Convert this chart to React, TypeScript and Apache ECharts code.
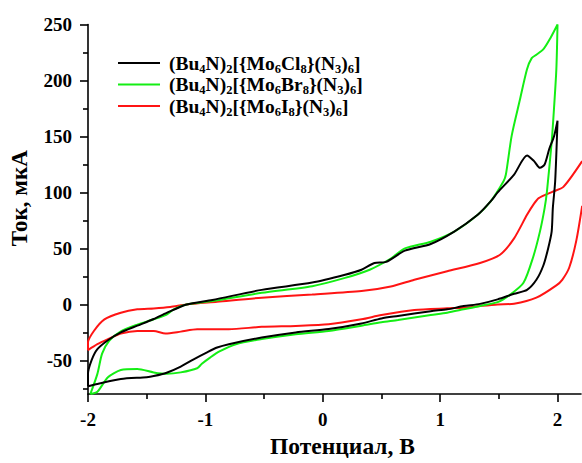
import React, { useEffect, useRef } from "react";
import * as echarts from "echarts";

const seriesNames = [
  "(Bu{s|4}N){s|2}[{Mo{s|6}Cl{s|8}}(N{s|3}){s|6}]",
  "(Bu{s|4}N){s|2}[{Mo{s|6}Br{s|8}}(N{s|3}){s|6}]",
  "(Bu{s|4}N){s|2}[{Mo{s|6}I{s|8}}(N{s|3}){s|6}]",
];
const seriesColors = ["#000000", "#14ee14", "#ff1414"];

const xMajorTicks = [-2, -1, 0, 1, 2];
const xMinorTicks = [-1.5, -0.5, 0.5, 1.5];
const yMajorTicks = [-50, 0, 50, 100, 150, 200, 250];
const yMinorTicks = [-75, -25, 25, 75, 125, 175, 225];

const clData: number[][] = [
  [-2.0, -73], [-2.0, -62], [-1.97, -50], [-1.92, -40], [-1.83, -32], [-1.72, -25], [-1.58, -19],
  [-1.44, -13], [-1.33, -7.5], [-1.16, 0], [-0.94, 4], [-0.52, 13], [-0.09, 19.5], [0.19, 26.5],
  [0.33, 31], [0.44, 37], [0.54, 38], [0.7, 48], [0.92, 54], [1.12, 65], [1.32, 80], [1.43, 92],
  [1.49, 100], [1.63, 116], [1.74, 133], [1.8, 128], [1.85, 122], [1.89, 125], [1.93, 139],
  [1.97, 150], [2.0, 164],
  [1.98, 110], [1.96, 86], [1.95, 65], [1.92, 50], [1.88, 35], [1.82, 22], [1.74, 13], [1.63, 9.5],
  [1.49, 4.5], [1.34, 0.5], [1.2, -1.5], [1.06, -4.4], [0.92, -6], [0.64, -10.3], [0.5, -12.5],
  [0.33, -17], [0.05, -22], [-0.23, -25], [-0.52, -29.6], [-0.8, -35.5], [-0.9, -38.5], [-0.99, -43],
  [-1.1, -49], [-1.21, -55.5], [-1.33, -61], [-1.44, -64], [-1.5, -65], [-1.72, -66.6],
  [-1.92, -71], [-2.0, -73],
];

const brData: number[][] = [
  [-1.98, -80], [-1.92, -62], [-1.88, -44], [-1.82, -32.5], [-1.72, -24], [-1.58, -18], [-1.44, -13.3],
  [-1.33, -9], [-1.27, -4.5], [-1.16, 0], [-0.94, 3], [-0.52, 10.4], [-0.09, 16.3], [0.19, 23.7],
  [0.4, 31], [0.58, 41], [0.7, 50], [0.92, 56], [1.12, 65], [1.32, 80], [1.43, 92], [1.54, 110],
  [1.56, 116], [1.61, 151], [1.68, 183], [1.74, 210], [1.78, 220], [1.82, 223], [1.88, 228],
  [1.94, 238], [2.0, 250],
  [1.99, 210], [1.97, 175], [1.95, 145], [1.91, 101], [1.89, 86], [1.85, 65], [1.79, 41.5],
  [1.71, 19.3], [1.6, 9], [1.49, 2], [1.34, -1.4], [1.2, -4.4], [1.06, -7.4], [0.92, -9.5],
  [0.64, -14], [0.5, -16], [0.33, -19], [0.05, -23.7], [-0.23, -26.6], [-0.52, -31], [-0.74, -35.5],
  [-0.88, -42], [-0.96, -47.5], [-1.03, -53], [-1.07, -57], [-1.21, -60.7], [-1.33, -62],
  [-1.44, -60.7], [-1.58, -57.7], [-1.72, -58.6], [-1.83, -65], [-1.92, -78], [-1.98, -80],
];

const iData: number[][] = [
  [2.21, 88], [2.16, 57], [2.1, 33], [2.04, 22], [1.99, 17], [1.82, 6], [1.63, 0.6], [1.49, 0],
  [1.34, -1.4], [1.2, -2.9], [1.06, -3.5], [0.78, -5], [0.5, -9.5], [0.33, -13.3], [0.05, -17.8],
  [-0.23, -19.2], [-0.52, -20], [-0.8, -22.2], [-1.07, -22.2], [-1.21, -24.3], [-1.34, -26],
  [-1.44, -23.7], [-1.58, -23.7], [-1.72, -26], [-1.83, -31], [-1.92, -35.5], [-2.0, -40.8],
  [-2.0, -34], [-1.95, -23.7], [-1.86, -13.3], [-1.72, -7.4], [-1.58, -4.4], [-1.44, -3.6],
  [-1.3, -2.3], [-1.16, 0], [-0.9, 2.4], [-0.52, 6], [-0.09, 8.9], [0.33, 11.9], [0.58, 16],
  [0.78, 22], [1.06, 29.6], [1.34, 37], [1.51, 44.4], [1.63, 59], [1.74, 80], [1.8, 90],
  [1.84, 95], [1.96, 100.7], [2.05, 105], [2.21, 128],
];

const allData = [clData, brData, iData];

const FONT = "Liberation Serif";

export default function App() {
  const ref = useRef<HTMLDivElement>(null);
  useEffect(() => {
    if (!ref.current) return;
    const chart = echarts.init(ref.current, null, { renderer: "svg" });
    const axisFont = { fontFamily: FONT, fontWeight: "bold" as const, fontSize: 19, color: "#000" };
    const baseX = {
      type: "value" as const,
      min: -2,
      max: 2.2,
      position: "bottom" as const,
      offset: 0,
      splitLine: { show: false },
    };
    const baseY = {
      type: "value" as const,
      min: -80,
      max: 250,
      position: "left" as const,
      offset: 0,
      splitLine: { show: false },
    };
    chart.setOption({
      animation: false,
      backgroundColor: "#fff",
      grid: { left: 84, right: 1, top: 24.5, bottom: 66, containLabel: false },
      legend: {
        orient: "vertical",
        left: 113,
        top: 46,
        icon: "rect",
        itemWidth: 42,
        itemHeight: 2,
        itemGap: -2.5,
        data: seriesNames,
        textStyle: {
          fontFamily: FONT,
          fontWeight: "bold",
          fontSize: 19.5,
          color: "#000",
          lineHeight: 24,
          padding: [0, 0, 0, 4],
          rich: {
            s: {
              fontFamily: FONT,
              fontWeight: "bold",
              fontSize: 12.5,
              color: "#000",
              lineHeight: 8,
              verticalAlign: "bottom",
            },
          },
        },
      },
      xAxis: [
        {
          ...baseX,
          name: "Потенциал, В",
          nameLocation: "middle",
          nameGap: 40,
          nameTextStyle: { ...axisFont, fontSize: 23.5, padding: [0, 0, 0, 16] },
          axisLine: { show: true, onZero: false, lineStyle: { color: "#000", width: 1.6 } },
          axisTick: { show: true, inside: false, length: 8, customValues: xMajorTicks, lineStyle: { color: "#000", width: 1.6 } },
          axisLabel: { show: true, customValues: xMajorTicks, margin: 16, ...axisFont },
        },
        {
          ...baseX,
          axisLine: { show: false, onZero: false },
          axisTick: { show: true, inside: false, length: 5, customValues: xMinorTicks, lineStyle: { color: "#000", width: 1.6 } },
          axisLabel: { show: false },
        },
      ],
      yAxis: [
        {
          ...baseY,
          name: "Ток, мкА",
          nameLocation: "middle",
          nameGap: 57,
          nameTextStyle: { ...axisFont, fontSize: 23, padding: [0, 0, 0, 22] },
          axisLine: { show: true, onZero: false, lineStyle: { color: "#000", width: 1.6 } },
          axisTick: { show: true, inside: false, length: 8, customValues: yMajorTicks, lineStyle: { color: "#000", width: 1.6 } },
          axisLabel: { show: true, customValues: yMajorTicks, margin: 16, ...axisFont },
        },
        {
          ...baseY,
          axisLine: { show: false, onZero: false },
          axisTick: { show: true, inside: false, length: 5, customValues: yMinorTicks, lineStyle: { color: "#000", width: 1.6 } },
          axisLabel: { show: false },
        },
      ],
      series: allData.map((d, i) => ({
        name: seriesNames[i],
        type: "line",
        xAxisIndex: 0,
        yAxisIndex: 0,
        data: d,
        symbol: "none",
        smooth: 0.25,
        clip: true,
        lineStyle: { color: seriesColors[i], width: 2 },
        itemStyle: { color: seriesColors[i] },
        z: 3 - i,
      })),
    });
    return () => chart.dispose();
  }, []);
  return (
    <div
      ref={ref}
      style={{ position: "fixed", left: 0, top: 0, width: 582, height: 463, background: "#fff" }}
    />
  );
}
